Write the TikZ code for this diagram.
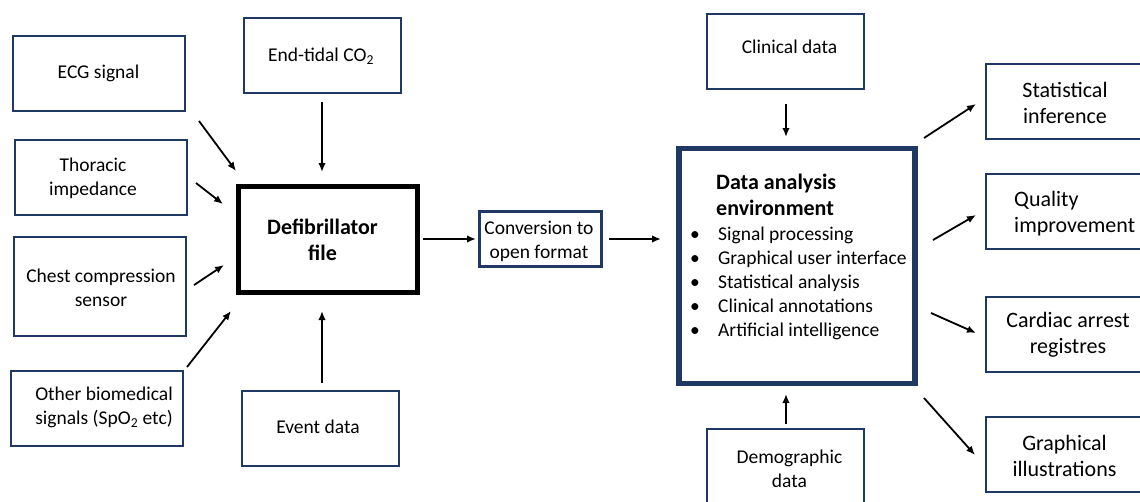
\documentclass[tikz,border=0pt]{standalone}
\usepackage{fontspec}
\setmainfont{Carlito}
\usetikzlibrary{arrows.meta}
\definecolor{navy}{HTML}{203864}
\begin{document}
\begin{tikzpicture}[x=1pt,y=-1pt,
  box/.style={draw=navy,line width=2pt,inner sep=0pt,minimum width=172pt,minimum height=75pt},
  midbox/.style={box,minimum width=157pt},
  txt/.style={font=\fontsize{19.5}{24}\selectfont,align=center,inner sep=0pt},
  bigtxt/.style={font=\fontsize{22}{26}\selectfont,align=center,inner sep=0pt},
  arr/.style={-{Latex[length=9pt,width=7.5pt]},line width=1.8pt}]
\useasboundingbox (0,0) rectangle (1140,501);
\clip (0,0) rectangle (1140,501);
\fill[white] (0,0) rectangle (1140,501);

% left inputs
\node[box] (ecg) at (99,73.5) {};
\node[txt] (ecg-t) at (98.5,73.5) {ECG signal};
\node[midbox] (etco) at (322,55) {};
\node[txt] (etco-t) at (321,56) {End-tidal CO\textsubscript{2}};
\node[box] (thor) at (101,177.5) {};
\node[txt] (thor-t) at (93,178) {Thoracic\\impedance};
\node[box,minimum height=99pt] (chest) at (99.5,286.5) {};
\node[txt] (chest-t) at (101,287.5) {Chest compression\\sensor};
\node[box] (other) at (97,408.5) {};
\node[txt] (other-t) at (104,407.5) {Other biomedical\\signals (SpO\textsubscript{2} etc)};
\node[midbox] (event) at (320.5,428.5) {};
\node[txt] (event-t) at (318,427) {Event data};

% defibrillator file
\node[draw=black,line width=4.5pt,inner sep=0pt,minimum width=179pt,minimum height=106pt] (defib) at (328,239.5) {};
\node[bigtxt,font=\fontsize{22}{26}\selectfont\bfseries] (defib-t) at (322.5,240) {Defibrillator\\file};

% conversion
\node[draw=navy,line width=3pt,inner sep=0pt,minimum width=122pt,minimum height=55pt] (conv) at (540.5,239) {};
\node[txt] (conv-t) at (539,241) {Conversion to\\open format};

% data analysis environment
\node[draw=navy,line width=5.5pt,inner sep=0pt,minimum width=236pt,minimum height=235pt] (dae) at (797,266) {};
\node[bigtxt,align=left,anchor=west,font=\fontsize{22}{26}\selectfont\bfseries] (dae-title) at (716,195) {Data analysis\\environment};
\node[txt,align=left,anchor=west] (dae-list) at (690,283) {%
\makebox[28pt][l]{\textbullet}Signal processing\\
\makebox[28pt][l]{\textbullet}Graphical user interface\\
\makebox[28pt][l]{\textbullet}Statistical analysis\\
\makebox[28pt][l]{\textbullet}Clinical annotations\\
\makebox[28pt][l]{\textbullet}Artificial intelligence};

\node[midbox] (clin) at (785.5,51.5) {};
\node[txt] (clin-t) at (789.5,47) {Clinical data};
\node[midbox] (demo) at (785.5,466.5) {};
\node[txt] (demo-t) at (789.5,469) {Demographic\\data};

% outputs
\node[midbox] (stat) at (1064.5,101.5) {};
\node[bigtxt] (stat-t) at (1065,102.5) {Statistical\\inference};
\node[midbox] (qi) at (1064.5,211.5) {};
\node[bigtxt,align=left,anchor=west] (qi-t) at (1014,214) {Quality\\improvement};
\node[midbox] (card) at (1064.5,334) {};
\node[bigtxt] (card-t) at (1068,334.5) {Cardiac arrest\\registres};
\node[midbox] (graph) at (1064.5,454.5) {};
\node[bigtxt] (graph-t) at (1064.5,455.5) {Graphical\\illustrations};

% connector end points
\coordinate (ecg-s) at (199,121);  \coordinate (ecg-e) at (236,171);
\coordinate (thor-s) at (196,183); \coordinate (thor-e) at (223,204);
\coordinate (chest-s) at (194,285);\coordinate (chest-e) at (224,265);
\coordinate (other-s) at (187,367);\coordinate (other-e) at (231,311);
\coordinate (etco-s) at (322,102); \coordinate (etco-e) at (322,172);
\coordinate (event-s) at (322,383);\coordinate (event-e) at (322,311);
\coordinate (defib-s) at (423,239);\coordinate (conv-e) at (476,239);
\coordinate (conv-s) at (609,239); \coordinate (dae-e) at (661,239);
\coordinate (clin-s) at (786,104); \coordinate (clin-e) at (786,137);
\coordinate (demo-s) at (786,424); \coordinate (demo-e) at (786,394);
\coordinate (stat-s) at (924,138); \coordinate (stat-e) at (976,104);
\coordinate (qi-s) at (933,240);   \coordinate (qi-e) at (976,215);
\coordinate (card-s) at (931,313); \coordinate (card-e) at (976,333);
\coordinate (graph-s) at (924,398);\coordinate (graph-e) at (975,455);

\draw[arr] (ecg-s) -- (ecg-e);
\draw[arr] (thor-s) -- (thor-e);
\draw[arr] (chest-s) -- (chest-e);
\draw[arr] (other-s) -- (other-e);
\draw[arr] (etco-s) -- (etco-e);
\draw[arr] (event-s) -- (event-e);
\draw[arr] (defib-s) -- (conv-e);
\draw[arr] (conv-s) -- (dae-e);
\draw[arr] (clin-s) -- (clin-e);
\draw[arr] (demo-s) -- (demo-e);
\draw[arr] (stat-s) -- (stat-e);
\draw[arr] (qi-s) -- (qi-e);
\draw[arr] (card-s) -- (card-e);
\draw[arr] (graph-s) -- (graph-e);
\end{tikzpicture}
\end{document}
